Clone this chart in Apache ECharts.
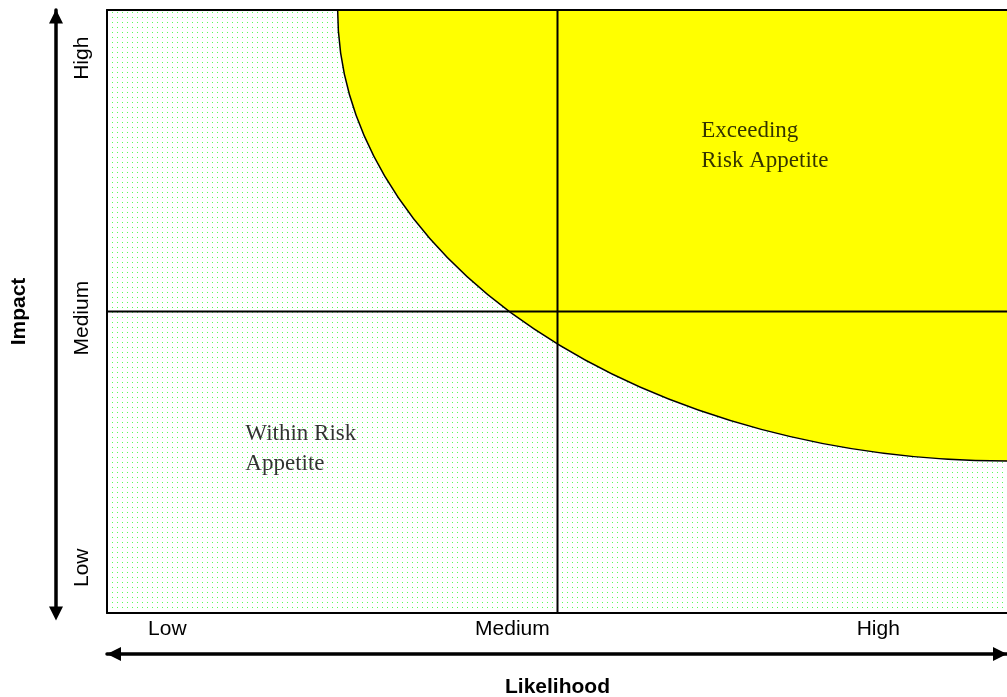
<!DOCTYPE html>
<html>
<head>
<meta charset="utf-8">
<script src="https://cdn.jsdelivr.net/npm/echarts@6/dist/echarts.min.js"></script>
<style>
  html, body { margin: 0; padding: 0; background: #fff; }
  #chart { width: 1007px; height: 697px; }
</style>
</head>
<body>
<div id="chart"></div>
<script>
// Likelihood (x) band labels and where they sit on the 0-100 scale
const likelihoodLabels = ['Low', 'Medium', 'High'];
const likelihoodLabelAt = [6.7, 45, 85.6];
// Impact (y) band labels and their positions
const impactLabels = ['Low', 'Medium', 'High'];
const impactLabelAt = [7.5, 48.9, 92];
// Medium lines that split the matrix into quadrants
const likelihoodMedium = 50;
const impactMedium = 50;
// Risk appetite boundary: quarter ellipse anchored at the High/High corner
const appetiteCorner = [100, 100];
const appetiteRadius = [74.4, 74.8];
// Region captions and their top-left anchors
const regionNames = ['Exceeding\nRisk Appetite', 'Within Risk\nAppetite'];
const regionAnchors = [[65.9, 82.4], [15.3, 32.2]];

const SANS = '"Liberation Sans", Arial, Helvetica, sans-serif';
const SERIF = '"Liberation Serif", "Times New Roman", serif';

// Light green dotted fill for the plot area
function dotPattern() {
  const c = document.createElement('canvas');
  c.width = 5; c.height = 5;
  const ctx = c.getContext('2d');
  ctx.fillStyle = 'rgb(85,255,85)';
  ctx.fillRect(2, 2, 1, 1);
  return { image: c, repeat: 'repeat' };
}

function nearestLabel(values, labels, v) {
  let best = 0;
  values.forEach((p, i) => { if (Math.abs(p - v) < Math.abs(values[best] - v)) best = i; });
  return labels[best];
}

const frameLine = { show: true, onZero: false, lineStyle: { color: '#000', width: 2 } };
const arrowLine = (offsets) => ({
  show: true,
  onZero: false,
  symbol: ['triangle', 'triangle'],
  symbolSize: [14, 14],
  symbolOffset: offsets,
  lineStyle: { color: '#000', width: 3.5 }
});
const hidden = { show: false };
const nameStyle = { fontFamily: SANS, fontWeight: 'bold', fontSize: 21, color: '#000' };

const chart = echarts.init(document.getElementById('chart'), null, { renderer: 'canvas' });

chart.setOption({
  animation: false,
  backgroundColor: '#fff',
  grid: {
    left: 107, top: 10, right: -1, bottom: 84,
    show: true,
    backgroundColor: dotPattern(),
    borderWidth: 0,
    containLabel: false,
    outerBoundsMode: 'none'
  },
  xAxis: [
    {
      type: 'value', min: 0, max: 100, position: 'bottom', z: 5,
      axisLine: frameLine, axisTick: hidden, splitLine: hidden,
      axisLabel: {
        show: true, customValues: likelihoodLabelAt, margin: 6,
        fontFamily: SANS, fontSize: 21, color: '#000',
        formatter: v => nearestLabel(likelihoodLabelAt, likelihoodLabels, v)
      }
    },
    {
      type: 'value', min: 0, max: 100, position: 'top', z: 5,
      axisLine: frameLine, axisTick: hidden, splitLine: hidden, axisLabel: hidden
    },
    {
      type: 'value', min: 0, max: 100, position: 'bottom', offset: 41, z: 5,
      axisLine: arrowLine([7, -8]), axisTick: hidden, splitLine: hidden, axisLabel: hidden,
      name: 'Likelihood', nameLocation: 'middle', nameGap: 23, nameTextStyle: nameStyle
    }
  ],
  yAxis: [
    {
      type: 'value', min: 0, max: 100, position: 'left', z: 5,
      axisLine: frameLine, axisTick: hidden, splitLine: hidden,
      axisLabel: {
        show: true, customValues: impactLabelAt, rotate: 90, margin: 14,
        fontFamily: SANS, fontSize: 21, color: '#000',
        formatter: v => nearestLabel(impactLabelAt, impactLabels, v)
      }
    },
    {
      type: 'value', min: 0, max: 100, position: 'right', z: 5,
      axisLine: frameLine, axisTick: hidden, splitLine: hidden, axisLabel: hidden
    },
    {
      type: 'value', min: 0, max: 100, position: 'left', offset: 51, z: 5,
      axisLine: arrowLine([-0.5, -6.5]), axisTick: hidden, splitLine: hidden, axisLabel: hidden,
      name: 'Impact', nameLocation: 'middle', nameGap: 26, nameTextStyle: nameStyle
    }
  ],
  series: [
    {
      // region beyond the appetite boundary
      type: 'custom',
      z: 2,
      silent: true,
      data: [[appetiteCorner[0], appetiteCorner[1], appetiteRadius[0], appetiteRadius[1]]],
      renderItem: (params, api) => {
        const cx = api.value(0), cy = api.value(1);
        const c = api.coord([cx, cy]);
        const l = api.coord([cx - api.value(2), cy]);
        const b = api.coord([cx, cy - api.value(3)]);
        const rx = c[0] - l[0];
        const ry = b[1] - c[1];
        return {
          type: 'path',
          shape: {
            pathData: `M${l[0]} ${l[1]} A${rx} ${ry} 0 0 0 ${b[0]} ${b[1]} L${c[0]} ${c[1]} Z`
          },
          style: { fill: '#ffff00', stroke: '#000', lineWidth: 1.5 }
        };
      }
    },
    {
      type: 'line', z: 4, silent: true, symbol: 'none',
      data: [[likelihoodMedium, 0], [likelihoodMedium, 100]],
      lineStyle: { color: '#000', width: 2 }
    },
    {
      type: 'line', z: 4, silent: true, symbol: 'none',
      data: [[0, impactMedium], [100, impactMedium]],
      lineStyle: { color: '#000', width: 2 }
    },
    {
      type: 'scatter', z: 6, silent: true,
      symbolSize: 1,
      itemStyle: { color: 'rgba(0,0,0,0)' },
      data: regionAnchors.map((p, i) => ({ value: p, name: regionNames[i] })),
      label: {
        show: true, position: 'right', distance: 0,
        align: 'left', verticalAlign: 'top',
        fontFamily: SERIF, fontSize: 23, lineHeight: 30, color: '#000',
        formatter: p => p.name
      }
    }
  ]
});
</script>
</body>
</html>
